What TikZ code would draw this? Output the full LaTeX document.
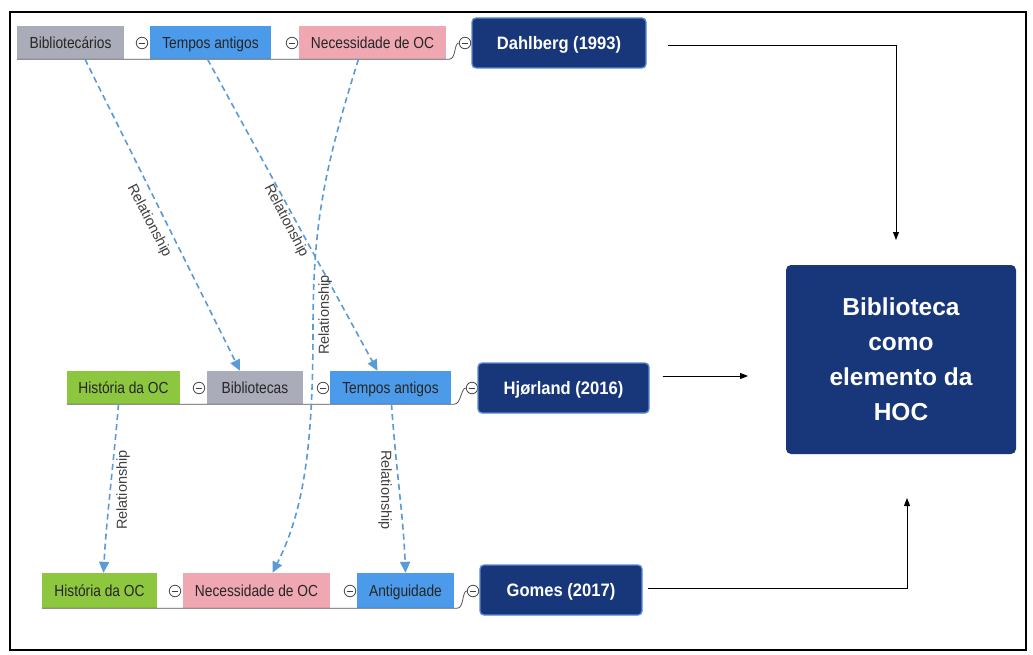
\documentclass[tikz,border=0pt]{standalone}
\usepackage{fontspec}
\setmainfont{Liberation Sans}
\newfontfamily\narrowfont[FakeStretch=0.86]{Liberation Sans}
\newfontfamily\yearfont[FakeStretch=0.92]{Liberation Sans}
\usetikzlibrary{arrows.meta}
\definecolor{topicgrey}{HTML}{ABACBA}
\definecolor{topicblue}{HTML}{4C9BEA}
\definecolor{topicpink}{HTML}{EFA7B2}
\definecolor{topicgreen}{HTML}{8DC63F}
\definecolor{navy}{HTML}{17377A}
\definecolor{navyedge}{HTML}{5A8AD6}
\definecolor{relblue}{HTML}{5B9BD5}
\definecolor{stemgrey}{HTML}{555555}

\begin{document}
\begin{tikzpicture}[x=1pt,y=-1pt,
  topic/.style={rectangle, inner sep=0pt, minimum height=33pt,
    text height=11.5pt, text depth=0pt,
    text=black!85, font=\narrowfont\fontsize{16}{18}\selectfont},
  author/.style={rectangle, rounded corners=4pt, fill=navy, draw=navyedge,
    line width=1.3pt, minimum height=50pt, inner sep=0pt, text=white,
    text height=13pt, text depth=0pt,
    font=\yearfont\bfseries\fontsize{18}{20}\selectfont},
  central/.style={rectangle, rounded corners=5pt, fill=navy, inner sep=0pt,
    minimum width=230pt, minimum height=189pt, text=white, align=center,
    font=\bfseries\fontsize{24.5}{35}\selectfont},
  toggle/.style={circle, draw=black!70, fill=white, line width=0.8pt,
    minimum size=11.5pt, inner sep=0pt,
    path picture={\draw[black!75, line width=0.8pt]
      ([xshift=2.5pt]path picture bounding box.west) --
      ([xshift=-2.5pt]path picture bounding box.east);}},
  stem/.style={draw=stemgrey, line width=0.8pt},
  rel/.style={draw=relblue, line width=1.6pt, dash pattern=on 6pt off 4pt,
    -{Triangle[length=11pt,width=10pt,fill=relblue]}},
  rellabel/.style={inner sep=0pt, text=black!75,
    font=\fontsize{14.5}{16}\selectfont},
  flow/.style={draw=black, line width=0.9pt,
    -{Triangle[length=8pt,width=6pt]}}
]
\useasboundingbox (0,0) rectangle (1033,655);
\fill[white] (0,0) rectangle (1033,655);
\draw[line width=1.5pt] (10,12) rectangle (1026,650);

% --- Dahlberg (1993) row
\node[topic, fill=topicgrey, minimum width=107pt] (tb1) at (70.5,42.5) {Bibliotecários};
\node[topic, fill=topicblue, minimum width=121pt] (tb2) at (210.5,42.5) {Tempos antigos};
\node[topic, fill=topicpink, minimum width=147pt] (tb3) at (372.5,42.5) {Necessidade de OC};
\node[toggle] (tc1) at (142,43) {};
\node[toggle] (tc2) at (292,43) {};
\node[toggle] (tc3) at (465,43) {};
\node[author, minimum width=174pt] (dahl) at (559,43) {Dahlberg (1993)};
\draw[stem] (tb1.south west) -- (tb3.south east) -- ++(3,0)
  .. controls +(7,0) and +(-5,0) .. (tc3.west);

% --- Hjørland (2016) row
\node[topic, fill=topicgreen, minimum width=113pt] (mh) at (123.5,387.5) {História da OC};
\node[topic, fill=topicgrey, minimum width=96pt] (mb) at (255,387.5) {Bibliotecas};
\node[topic, fill=topicblue, minimum width=121pt] (mt) at (390.5,387.5) {Tempos antigos};
\node[toggle] (mc1) at (199,388) {};
\node[toggle] (mc2) at (323,388) {};
\node[toggle] (mc3) at (472,388) {};
\node[author, minimum width=171pt] (hjor) at (563.5,388) {Hjørland (2016)};
\draw[stem] (mh.south west) -- (mt.south east) -- ++(3,0)
  .. controls +(7,0) and +(-5,0) .. (mc3.west);

% --- Gomes (2017) row
\node[topic, fill=topicgreen, minimum width=115pt, minimum height=35pt] (bh) at (99.5,590.5) {História da OC};
\node[topic, fill=topicpink, minimum width=147pt, minimum height=35pt] (bn) at (256.5,590.5) {Necessidade de OC};
\node[topic, fill=topicblue, minimum width=97pt, minimum height=35pt] (ba) at (405.5,590.5) {Antiguidade};
\node[toggle] (bc1) at (175,591) {};
\node[toggle] (bc2) at (350,591) {};
\node[toggle] (bc3) at (473,591) {};
\node[author, minimum width=162pt] (gomes) at (561,590) {Gomes (2017)};
\draw[stem] (bh.south west) -- (ba.south east) -- ++(3,0)
  .. controls +(7,0) and +(-5,0) .. (bc3.west);

% --- central concept
\node[central] (hoc) at (901,359.5) {Biblioteca\\como\\elemento da\\HOC};

% --- relationships between topics
\draw[rel] ([xshift=14.5pt]tb1.south) -- ([xshift=-15pt]mb.north);
\draw[rel] ([xshift=-3pt]tb2.south) -- ([xshift=-13pt]mt.north);
\coordinate (necmid) at (313,330);
\draw[rel] ([xshift=-14pt]tb3.south) .. controls (322,175) and (313,230) .. (necmid)
  .. controls (313,450) and (303,512) .. ([xshift=16pt]bn.north);
\draw[rel] ([xshift=-5pt]mh.south) .. controls +(-5,60) and +(3,-55) .. ([xshift=4pt]bh.north);
\draw[rel] ([xshift=1pt]mt.south) .. controls +(4,60) and +(-2,-55) .. (ba.north);

\node[rellabel, rotate=-62.5] (r1) at (149,221) {Relationship};
\node[rellabel, rotate=-62.5] (r2) at (286,221) {Relationship};
\node[rellabel, rotate=90] (r3) at (325,315) {Relationship};
\node[rellabel, rotate=90] (r4) at (123,490) {Relationship};
\node[rellabel, rotate=-90] (r5) at (385,490) {Relationship};

% --- references leading to the central concept
\coordinate (dEnd) at (896,240);
\coordinate (hEnd) at (748,376);
\coordinate (gEnd) at (907,498);
\draw[flow] ([xshift=21pt,yshift=-2pt]dahl.east) -| (dEnd);
\draw[flow] ([xshift=13pt,yshift=12pt]hjor.east) -- (hEnd);
\draw[flow] ([xshift=5pt,yshift=2pt]gomes.east) -| (gEnd);
\end{tikzpicture}
\end{document}
